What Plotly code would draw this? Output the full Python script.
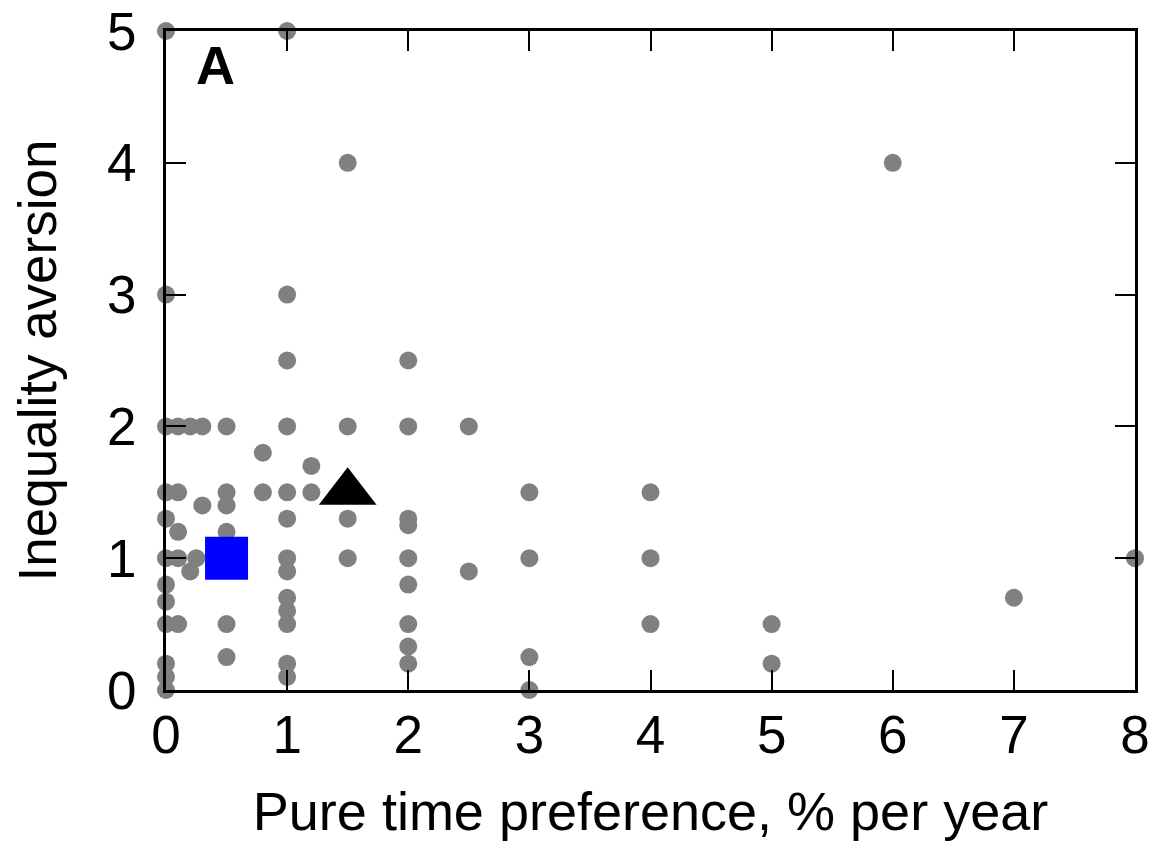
import plotly.graph_objects as go

# survey answers (grey dots)
time_pref = [0, 1, 1.5, 6, 0, 1, 1, 2,
             0, 0.1, 0.2, 0.3, 0.5, 1, 1.5, 2, 2.5,
             0.8, 1.2,
             0, 0.1, 0.5, 0.8, 1, 1.2, 3, 4,
             0.3, 0.5,
             0, 1, 1.5, 2, 2,
             0.1, 0.5,
             0, 0.1, 0.25, 1, 1.5, 2, 3, 4, 8,
             0.2, 1, 2.5,
             0, 2,
             0, 1, 7,
             1,
             0, 0.1, 0.5, 1, 2, 4, 5,
             2,
             0.5, 3,
             0, 1, 2, 5,
             0, 1,
             0, 3]
ineq_aversion = [5, 5, 4, 4, 3, 3, 2.5, 2.5,
                 2, 2, 2, 2, 2, 2, 2, 2, 2,
                 1.8, 1.7,
                 1.5, 1.5, 1.5, 1.5, 1.5, 1.5, 1.5, 1.5,
                 1.4, 1.4,
                 1.3, 1.3, 1.3, 1.3, 1.25,
                 1.2, 1.2,
                 1, 1, 1, 1, 1, 1, 1, 1, 1,
                 0.9, 0.9, 0.9,
                 0.8, 0.8,
                 0.67, 0.7, 0.7,
                 0.6,
                 0.5, 0.5, 0.5, 0.5, 0.5, 0.5, 0.5,
                 0.33,
                 0.25, 0.25,
                 0.2, 0.2, 0.2, 0.2,
                 0.1, 0.1,
                 0, 0]

# highlighted choices
square_x, square_y = [0.5], [1.0]
triangle_x, triangle_y = [1.5], [1.5]

FONT = "Liberation Sans, Arial, sans-serif"

fig = go.Figure()
fig.add_trace(go.Scatter(x=time_pref, y=ineq_aversion, mode='markers',
                         marker=dict(color='#808080', size=18, line=dict(width=0)),
                         cliponaxis=False, showlegend=False))
fig.add_trace(go.Scatter(x=square_x, y=square_y, mode='markers',
                         marker=dict(symbol='square', color='#0000ff', size=43,
                                     line=dict(width=0)),
                         cliponaxis=False, showlegend=False))
fig.add_trace(go.Scatter(x=triangle_x, y=triangle_y, mode='markers',
                         marker=dict(symbol='triangle-up', color='black', size=50,
                                     line=dict(width=0)),
                         cliponaxis=False, showlegend=False))

axis_style = dict(showgrid=False, zeroline=False, showline=True, linecolor='black',
                  linewidth=3, mirror='ticks', ticks='inside', ticklen=20,
                  tickwidth=2, tickcolor='black', ticklabeloverflow='allow',
                  tickfont=dict(family=FONT, size=53, color='black'))

fig.update_xaxes(range=[0, 8], dtick=1, ticklabelstandoff=-4,
                 title=dict(text='Pure time preference, % per year',
                            font=dict(family=FONT, size=54, color='black'),
                            standoff=30),
                 **axis_style)
fig.update_yaxes(range=[0, 5], dtick=1, ticklabelstandoff=16,
                 title=dict(text='Inequality aversion',
                            font=dict(family=FONT, size=53, color='black'),
                            standoff=44),
                 **axis_style)

fig.add_annotation(text='<b>A</b>', xref='paper', yref='paper', x=0.029, y=0.997,
                   xanchor='left', yanchor='top', showarrow=False,
                   font=dict(family=FONT, size=54, color='black'))

# the page puts the figure 8px in from the corner, so size it to fit the window
fig.update_layout(
    width=1157, height=835,
    margin=dict(l=158, r=30, t=23, b=153, autoexpand=False),
    paper_bgcolor='white', plot_bgcolor='white',
)
fig.write_html("out.html")
